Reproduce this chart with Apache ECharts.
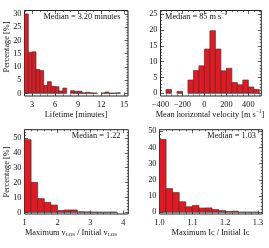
<!DOCTYPE html>
<html><head><meta charset="utf-8">
<script src="https://cdn.jsdelivr.net/npm/echarts@6/dist/echarts.min.js"></script>
<style>html,body{margin:0;padding:0;background:#fff}#c{width:269px;height:248px}</style>
</head><body><div id="c"></div>
<script>
// ---- data ----
const lifetimeBins = [2,2.5,3,3.5,4,4.5,5,5.5,6,6.5,7,7.5,8,8.5,9,9.5,10,10.5,11,11.5,12,12.5,13,13.5,14];
const lifetimePct  = [30,15.5,15.7,9.0,8.6,3.0,4.4,2.7,2.5,0.9,2.0,0,1.0,0.8,0.8,0.2,0.4,0.2,0.1,0,0.1,0.5,0.1,0.1,0.2];
const lifetimeBinWidth = 0.5;

const velocityBins = [-350,-300,-250,-200,-150,-100,-50,0,50,100,150,200,250,300,350,400,450];
const velocityPct  = [1.2,0,0.6,0,4.2,7.2,8.7,14,19.8,14,7.1,7.9,3.4,2.7,4.2,2.0,1.2];
const velocityBinWidth = 50;

const vlosBins = [1.0,1.2,1.4,1.6,1.8,2.0,2.2,2.4,2.6,2.8,3.0,3.2,3.4,3.6];
const vlosPct  = [48.8,20.1,9.2,6.7,4.9,1.2,1.6,1.6,0.4,0.3,0.2,0.1,0.1,0.2];
const vlosBinWidth = 0.2;

const icBins = [1.00,1.02,1.04,1.06,1.08,1.10,1.12,1.14,1.16,1.18,1.20,1.22,1.24,1.26,1.28];
const icPct  = [45,14.6,12.2,6.5,3.4,4.2,2.6,2.7,1.7,1.0,0.5,0.7,0.1,0.1,0.1];
const icBinWidth = 0.02;

const lifetimeTicks = [3,6,9,12,15];
const lifetimeTickLabels = ['3','6','9','12','15'];
const velocityTicks = [-400,-200,0,200,400];
const velocityTickLabels = ['\u2212400','\u2212200','0','200','400'];
const vlosTicks = [1,2,3,4];
const vlosTickLabels = ['1','2','3','4'];
const icTicks = [1.0,1.1,1.2,1.3];
const icTickLabels = ['1.0','1.1','1.2','1.3'];
const pctTicksTop = [0,5,10,15,20,25,30];
const pctTicksTop2 = [0,5,10,15,20,25];
const pctTicksBottom = [0,10,20,30,40,50];

const medianTexts = ['Median = 3.20 minutes', 'Median = 85 m s', 'Median = 1.22', 'Median = 1.03'];

// ---- layout / style ----
const FONT = 'Liberation Serif';
const FS = 8.3;
const TXT = '#111';
const TICK = '#333';

const panels = [
  {grid:{left:24.5, top:10.5, width:103.5, height:85.5}, x:[2,15.5], y:[-1,31.3],
   xt:lifetimeTicks, xl:lifetimeTickLabels, xm:[2,15,1], yt:pctTicksTop, ym:[0,31,1],
   bins:lifetimeBins, vals:lifetimePct, w:lifetimeBinWidth},
  {grid:{left:160.5, top:10.5, width:100.8, height:85.5}, x:[-400,518], y:[-0.85,26.2],
   xt:velocityTicks, xl:velocityTickLabels, xm:[-400,500,50], yt:pctTicksTop2, ym:[0,26,1],
   bins:velocityBins, vals:velocityPct, w:velocityBinWidth},
  {grid:{left:24.5, top:129.7, width:103.8, height:84.3}, x:[1,4.15], y:[-1.1,55.5],
   xt:vlosTicks, xl:vlosTickLabels, xm:[1,4.1,0.2], yt:pctTicksBottom, ym:[0,54,2],
   bins:vlosBins, vals:vlosPct, w:vlosBinWidth},
  {grid:{left:159.5, top:129.7, width:102.8, height:84.3}, x:[1,1.313], y:[-1.05,51],
   xt:icTicks, xl:icTickLabels, xm:[1,1.3,0.02], yt:pctTicksBottom, ym:[0,50,2],
   bins:icBins, vals:icPct, w:icBinWidth}
];

function steps(a, b, s) {
  const out = [];
  const n = Math.round((b - a) / s);
  for (let i = 0; i <= n; i++) out.push(+(a + i * s).toFixed(6));
  return out;
}

const grids = [], xAxes = [], yAxes = [], series = [];
panels.forEach((p, gi) => {
  grids.push(Object.assign({show:true, borderColor:'#222', borderWidth:1, backgroundColor:'transparent'}, p.grid));
  const xMinor = steps(p.xm[0], p.xm[1], p.xm[2]);
  const yMinor = steps(p.ym[0], p.ym[1], p.ym[2]);
  const base = {gridIndex:gi, type:'value', splitLine:{show:false}, axisLine:{show:false, onZero:false}};
  const mainX = xAxes.length;
  xAxes.push(Object.assign({}, base, {min:p.x[0], max:p.x[1], position:'bottom',
    axisTick:{show:true, inside:true, length:3.5, customValues:p.xt, lineStyle:{color:TICK, width:0.8}},
    axisLabel:{show:true, customValues:p.xt, margin:5, fontFamily:FONT, fontSize:FS, color:TXT,
      formatter:(v)=>{const i=p.xt.findIndex(t=>Math.abs(t-v)<1e-9); return i>=0?p.xl[i]:'';}}}));
  [['bottom',xMinor,1.6],['top',p.xt,3.5],['top',xMinor,1.6]].forEach(([pos,vals,len])=>{
    xAxes.push(Object.assign({}, base, {min:p.x[0], max:p.x[1], position:pos,
      axisTick:{show:true, inside:true, length:len, customValues:vals, lineStyle:{color:TICK, width:0.7}},
      axisLabel:{show:false}}));
  });
  const mainY = yAxes.length;
  yAxes.push(Object.assign({}, base, {min:p.y[0], max:p.y[1], position:'left',
    axisTick:{show:true, inside:true, length:3.5, customValues:p.yt, lineStyle:{color:TICK, width:0.8}},
    axisLabel:{show:true, customValues:p.yt, margin:3, fontFamily:FONT, fontSize:FS, color:TXT}}));
  [['left',yMinor,1.6],['right',p.yt,3.5],['right',yMinor,1.6]].forEach(([pos,vals,len])=>{
    yAxes.push(Object.assign({}, base, {min:p.y[0], max:p.y[1], position:pos,
      axisTick:{show:true, inside:true, length:len, customValues:vals, lineStyle:{color:TICK, width:0.7}},
      axisLabel:{show:false}}));
  });
  series.push({
    type:'custom', xAxisIndex:mainX, yAxisIndex:mainY,
    encode:{x:[0,1], y:2},
    data: p.bins.map((b,i)=>[b, +(b+p.w).toFixed(6), p.vals[i]]).filter(d=>d[2]>0),
    renderItem:(params, api)=>{
      const a = api.coord([api.value(0), api.value(2)]);
      const b = api.coord([api.value(1), 0]);
      return {type:'rect', shape:{x:a[0], y:a[1], width:b[0]-a[0], height:b[1]-a[1]},
        style:{fill:'#e8161e', stroke:'#3a3a3a', lineWidth:0.7}};
    },
    silent:true, animation:false
  });
});

const sup = {fontSize:5.5, fontFamily:FONT, color:TXT, verticalAlign:'top', lineHeight:8};
const sub = {fontSize:5, fontFamily:FONT, color:TXT, padding:[2.5,0,0,0]};
const nrm = {fontSize:FS, fontFamily:FONT, color:TXT, lineHeight:12};
function txt(x, y, text, align, rot) {
  return {type:'text', x:x, y:y, rotation:rot||0, silent:true,
    style:{text:text, align:align||'center', verticalAlign:'middle', rich:{a:nrm, sup:sup, sub:sub},
      font: FS+'px '+FONT, fill:TXT}};
}
const graphics = [
  txt(120.5, 16.7, '{a|'+medianTexts[0]+'}', 'right'),
  txt(165, 16.7, '{a|'+medianTexts[1]+'}{sup|\u22121}', 'left'),
  txt(120.5, 135.7, '{a|'+medianTexts[2]+'}', 'right'),
  txt(256, 135.7, '{a|'+medianTexts[3]+'}', 'right'),
  txt(76, 115, '{a|Lifetime [minutes]}'),
  txt(210, 115, '{a|Mean horizontal velocity [m s}{sup|\u22121}{a|]}'),
  txt(71, 233, '{a|Maximum v}{sub|LOS}{a| / Initial v}{sub|LOS}'),
  txt(210.5, 233, '{a|Maximum Ic / Initial Ic}'),
  txt(6.5, 47, '{a|Percentage [%]}', 'center', Math.PI/2),
  txt(6.5, 172, '{a|Percentage [%]}', 'center', Math.PI/2)
];

const chart = echarts.init(document.getElementById('c'), null, {renderer:'canvas'});
chart.setOption({
  animation:false,
  backgroundColor:'#fff',
  grid:grids, xAxis:xAxes, yAxis:yAxes, series:series,
  graphic:graphics
});
</script>
</body></html>
